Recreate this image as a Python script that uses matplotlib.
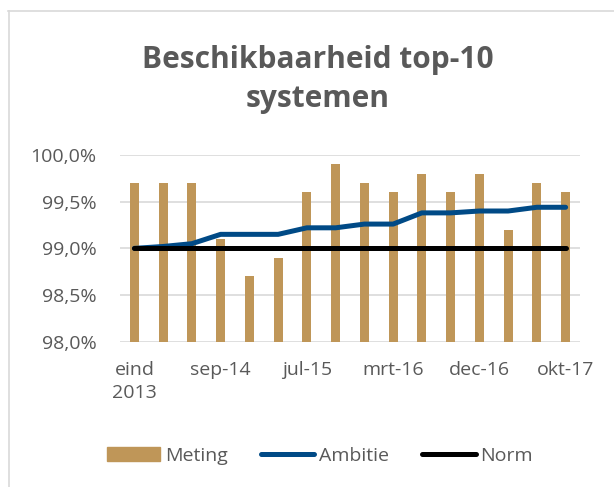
import numpy as np
import matplotlib.pyplot as plt
from matplotlib.lines import Line2D
from matplotlib.patches import Patch

plt.rcParams['font.family'] = ['Open Sans', 'DejaVu Sans']

# Data
periods = ["eind\n2013", "", "", "sep-14", "", "", "jul-15", "", "",
           "mrt-16", "", "", "dec-16", "", "", "okt-17"]
meting = [99.7, 99.7, 99.7, 99.1, 98.7, 98.9, 99.6, 99.9,
          99.7, 99.6, 99.8, 99.6, 99.8, 99.2, 99.7, 99.6]
ambitie = [99.00, 99.02, 99.05, 99.15, 99.15, 99.15, 99.22, 99.22,
           99.26, 99.26, 99.38, 99.38, 99.40, 99.40, 99.44, 99.44]
norm = [99.0] * 16
yticks = [98.0, 98.5, 99.0, 99.5, 100.0]

grey = "#595959"
bar_color = "#BF9658"
blue = "#004A86"

fig = plt.figure(figsize=(6.14, 4.87), dpi=100)
ax = fig.add_axes([120 / 614, 1 - 341.7 / 487, 460 / 614, 186.7 / 487])

x = np.arange(len(meting))
ax.bar(x, np.array(meting) - 98.0, bottom=98.0, width=0.31, color=bar_color, zorder=2)
ax.plot(x, ambitie, color=blue, lw=3.6, solid_capstyle='round', zorder=3)
ax.plot(x, norm, color="black", lw=3.6, solid_capstyle='round', zorder=3)

ax.set_xlim(-0.5, len(meting) - 0.5)
ax.set_ylim(98.0, 100.0)
ax.set_yticks(yticks)
ax.set_yticklabels([f"{v:.1f}%".replace(".", ",") for v in yticks])
ax.set_xticks(x)
ax.set_xticklabels(periods, linespacing=1.35)
ax.tick_params(axis='both', length=0, colors=grey, labelsize=14)
ax.tick_params(axis='x', pad=14)
ax.tick_params(axis='y', pad=17)
ax.grid(axis='y', color="#D9D9D9", lw=1.2, zorder=0)
for s in ax.spines.values():
    s.set_visible(False)

fig.text(317.5 / 614, 1 - 68 / 487, "Beschikbaarheid top-10", ha='center', va='baseline',
         fontsize=21.5, fontweight='bold', color=grey)
fig.text(317.5 / 614, 1 - 107 / 487, "systemen", ha='center', va='baseline',
         fontsize=21.5, fontweight='bold', color=grey)

handles = [Patch(color=bar_color, label="Meting"),
           Line2D([], [], color=blue, lw=3.6, solid_capstyle='round', label="Ambitie"),
           Line2D([], [], color="black", lw=3.6, solid_capstyle='round', label="Norm")]
leg = fig.legend(handles=handles, loc='center', bbox_to_anchor=(320 / 614, 1 - 456 / 487),
                 ncol=3, frameon=False, fontsize=14, handlelength=2.75, handleheight=0.7,
                 handletextpad=0.25, columnspacing=1.7)
for t in leg.get_texts():
    t.set_color(grey)

# chart border (top and left visible)
fig.add_artist(Line2D([8 / 614, 1.0], [1 - 10.5 / 487] * 2, color="#D9D9D9", lw=1.2))
fig.add_artist(Line2D([8.5 / 614] * 2, [0, 1 - 10.5 / 487], color="#D9D9D9", lw=1.2))

fig.savefig("out.png", dpi=100)
